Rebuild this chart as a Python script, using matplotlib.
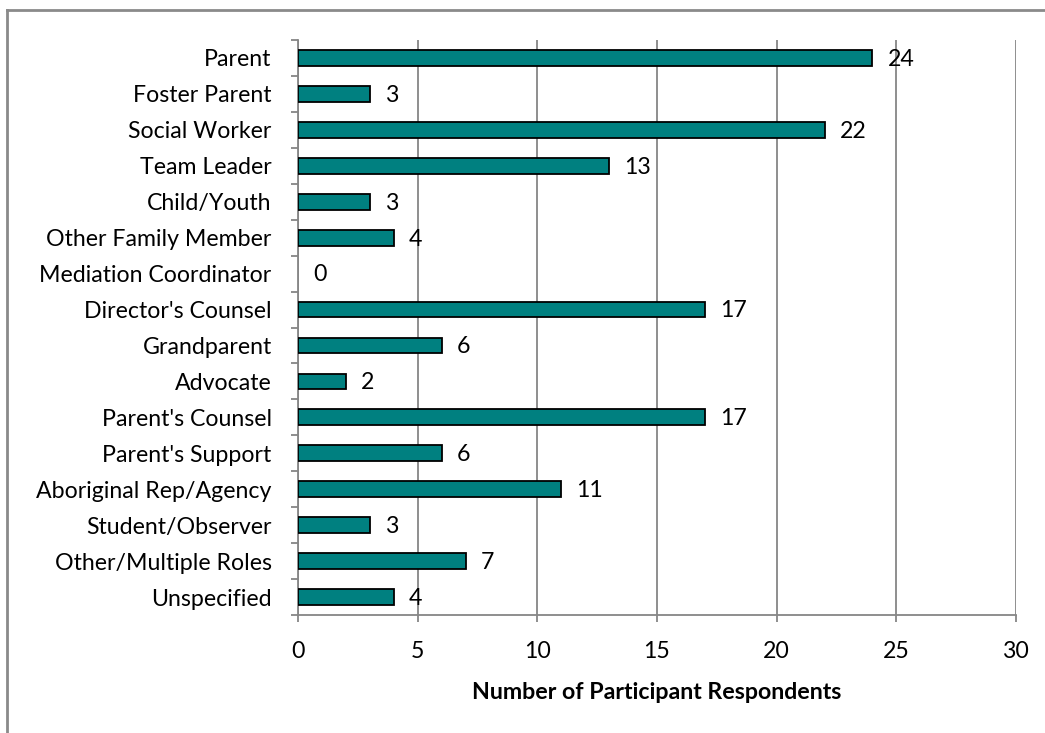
import matplotlib
matplotlib.use("Agg")
import matplotlib.pyplot as plt
from matplotlib.lines import Line2D
import numpy as np

roles = [
    "Parent", "Foster Parent", "Social Worker", "Team Leader", "Child/Youth",
    "Other Family Member", "Mediation Coordinator", "Director's Counsel",
    "Grandparent", "Advocate", "Parent's Counsel", "Parent's Support",
    "Aboriginal Rep/Agency", "Student/Observer", "Other/Multiple Roles",
    "Unspecified",
]
respondents = [24, 3, 22, 13, 3, 4, 0, 17, 6, 2, 17, 6, 11, 3, 7, 4]
x_ticks = [0, 5, 10, 15, 20, 25, 30]
x_title = "Number of Participant Respondents"

plt.rcParams["font.family"] = ["Lato", "DejaVu Sans"]
FS = 16.7
GRID = "#868686"

fig = plt.figure(figsize=(10.45, 7.33), dpi=100)
ax = fig.add_axes([0.2852, 0.161, 0.9722 - 0.2852, 0.9454 - 0.161])

y = np.arange(len(roles))
edges = ["black" if v > 0 else "none" for v in respondents]
ax.barh(y, respondents, height=0.44, color="#008080", edgecolor=edges,
        linewidth=1.3, zorder=3)

for yi, v in zip(y, respondents):
    ax.annotate(str(v), xy=(v, yi), xytext=(11, -1), textcoords="offset points",
                ha="left", va="center", fontsize=FS, color="black")

ax.set_xlim(0, 30)
ax.set_ylim(len(roles) - 0.5, -0.5)
ax.set_xticks(x_ticks)
ax.set_xticklabels([str(t) for t in x_ticks], fontsize=FS)
ax.set_yticks(y)
ax.set_yticklabels(roles, fontsize=FS)
ax.set_yticks(np.arange(-0.5, len(roles), 1), minor=True)

ax.tick_params(axis="y", which="major", length=0, pad=19)
ax.tick_params(axis="y", which="minor", length=5, width=1.3, color=GRID, direction="out")
ax.tick_params(axis="x", which="major", length=5, width=1.3, color=GRID, pad=14)

ax.xaxis.grid(True, color=GRID, linewidth=1.3, zorder=0)
ax.set_axisbelow(True)
for s in ("top", "right"):
    ax.spines[s].set_visible(False)
for s in ("left", "bottom"):
    ax.spines[s].set_color(GRID)
    ax.spines[s].set_linewidth(1.3)

ax.set_xlabel(x_title, fontsize=FS, fontweight="bold", labelpad=14)

# chart frame (top and left edges)
fig.add_artist(Line2D([7 / 1045, 7 / 1045], [0, 1 - 10 / 733], transform=fig.transFigure,
                      color="#8a8a8a", linewidth=2))
fig.add_artist(Line2D([7 / 1045, 1], [1 - 10 / 733, 1 - 10 / 733], transform=fig.transFigure,
                      color="#8a8a8a", linewidth=2))

fig.savefig("out.png", dpi=100, facecolor="white")
